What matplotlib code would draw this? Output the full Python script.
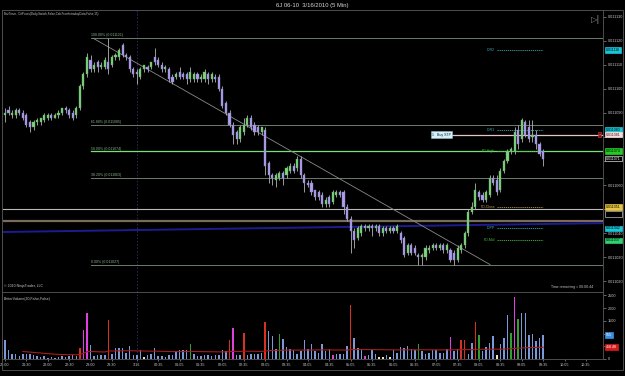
import matplotlib
matplotlib.use('Agg')
import matplotlib.pyplot as plt
import matplotlib.transforms as mtransforms
from matplotlib.patches import Rectangle
from matplotlib.ticker import FormatStrFormatter
import numpy as np
import pandas as pd

plt.rcParams['font.family'] = ['Liberation Sans', 'DejaVu Sans']

# ---------------- data ----------------
title = "6J 06-10  3/16/2010 (5 Min)"
indicator_text = "BarTimer,  CitPivots(Daily,Switch,False,CalcFromIntradayData,False,15)"
volume_text = "BetterVolume(20,False,False)"
copyright_text = "\u00a9 2010 NinjaTrader, LLC"
timer_text = "Time remaining = 00:00:44"

opens = [0.011089,0.011091,0.011089,0.011089,0.011091,0.011090,0.011089,0.011086,0.011084,0.011086,
0.011086,0.011087,0.011088,0.011089,0.011088,0.011089,0.011090,0.011092,0.011091,0.011090,
0.011089,0.011092,0.011101,0.011106,0.011112,0.011108,0.011111,0.011109,0.011109,0.011111,
0.011110,0.011113,0.011113,0.011118,0.011114,0.011113,0.011108,0.011107,0.011105,0.011108,
0.011109,0.011109,0.011113,0.011112,0.011110,0.011108,0.011108,0.011105,0.011105,0.011107,
0.011106,0.011106,0.011104,0.011104,0.011106,0.011104,0.011104,0.011106,0.011104,0.011105,
0.011105,0.011100,0.011094,0.011090,0.011085,0.011082,0.011079,0.011082,0.011085,0.011088,
0.011085,0.011084,0.011082,0.011083,0.011069,0.011064,0.011062,0.011063,0.011065,0.011064,
0.011066,0.011068,0.011067,0.011071,0.011064,0.011061,0.011061,0.011058,0.011057,0.011056,
0.011052,0.011055,0.011053,0.011056,0.011057,0.011057,0.011051,0.011046,0.011041,0.011038,
0.011040,0.011043,0.011042,0.011043,0.011042,0.011043,0.011040,0.011042,0.011041,0.011042,
0.011041,0.011040,0.011038,0.011032,0.011035,0.011034,0.011031,0.011030,0.011030,0.011033,
0.011034,0.011035,0.011034,0.011035,0.011033,0.011033,0.011032,0.011029,0.011033,0.011035,
0.011040,0.011049,0.011051,0.011057,0.011056,0.011054,0.011056,0.011063,0.011062,0.011058,
0.011066,0.011070,0.011074,0.011074,0.011083,0.011079,0.011086,0.011084,0.011080,0.011081,
0.011077,0.011074]

highs = [0.011092,0.011093,0.011091,0.011092,0.011092,0.011091,0.011090,0.011087,0.011087,0.011088,
0.011088,0.011090,0.011090,0.011090,0.011090,0.011091,0.011092,0.011093,0.011092,0.011091,
0.011093,0.011102,0.011107,0.011115,0.011114,0.011111,0.011112,0.011111,0.011113,0.011121,
0.011114,0.011115,0.011117,0.011119,0.011115,0.011114,0.011109,0.011108,0.011109,0.011110,
0.011110,0.011111,0.011117,0.011113,0.011111,0.011110,0.011109,0.011106,0.011107,0.011109,
0.011107,0.011107,0.011109,0.011107,0.011107,0.011106,0.011108,0.011107,0.011107,0.011106,
0.011106,0.011101,0.011095,0.011091,0.011086,0.011083,0.011085,0.011088,0.011089,0.011089,
0.011086,0.011085,0.011084,0.011084,0.011070,0.011065,0.011065,0.011066,0.011066,0.011068,
0.011069,0.011069,0.011072,0.011072,0.011065,0.011062,0.011062,0.011058,0.011058,0.011057,
0.011055,0.011056,0.011058,0.011058,0.011058,0.011058,0.011052,0.011047,0.011042,0.011043,
0.011044,0.011044,0.011044,0.011044,0.011044,0.011044,0.011043,0.011043,0.011043,0.011043,
0.011044,0.011041,0.011039,0.011036,0.011036,0.011035,0.011032,0.011032,0.011035,0.011035,
0.011036,0.011036,0.011036,0.011036,0.011036,0.011034,0.011033,0.011035,0.011036,0.011041,
0.011050,0.011053,0.011061,0.011058,0.011057,0.011058,0.011064,0.011064,0.011064,0.011067,
0.011071,0.011075,0.011076,0.011084,0.011085,0.011088,0.011087,0.011087,0.011087,0.011083,
0.011078,0.011075]

lows = [0.011086,0.011089,0.011088,0.011088,0.011089,0.011087,0.011084,0.011082,0.011083,0.011085,
0.011085,0.011086,0.011087,0.011087,0.011088,0.011088,0.011089,0.011090,0.011088,0.011087,
0.011088,0.011091,0.011100,0.011105,0.011107,0.011107,0.011107,0.011108,0.011108,0.011106,
0.011109,0.011112,0.011112,0.011113,0.011112,0.011107,0.011105,0.011102,0.011104,0.011107,
0.011107,0.011108,0.011110,0.011109,0.011107,0.011107,0.011103,0.011102,0.011104,0.011104,
0.011104,0.011102,0.011103,0.011103,0.011103,0.011103,0.011103,0.011102,0.011103,0.011103,
0.011099,0.011092,0.011089,0.011084,0.011077,0.011077,0.011078,0.011081,0.011084,0.011083,
0.011081,0.011081,0.011081,0.011064,0.011061,0.011060,0.011059,0.011062,0.011060,0.011063,
0.011065,0.011065,0.011066,0.011063,0.011057,0.011059,0.011056,0.011054,0.011054,0.011051,
0.011051,0.011051,0.011052,0.011055,0.011055,0.011048,0.011045,0.011032,0.011034,0.011037,
0.011039,0.011041,0.011041,0.011039,0.011041,0.011039,0.011039,0.011040,0.011040,0.011040,
0.011040,0.011036,0.011030,0.011031,0.011031,0.011031,0.011027,0.011027,0.011029,0.011032,
0.011033,0.011033,0.011033,0.011032,0.011032,0.011028,0.011027,0.011028,0.011032,0.011034,
0.011039,0.011048,0.011050,0.011054,0.011053,0.011053,0.011055,0.011060,0.011056,0.011057,
0.011065,0.011069,0.011073,0.011073,0.011075,0.011078,0.011080,0.011078,0.011078,0.011075,
0.011072,0.011068]

closes = [0.011090,0.011090,0.011090,0.011091,0.011090,0.011088,0.011085,0.011084,0.011086,0.011087,
0.011088,0.011089,0.011089,0.011088,0.011089,0.011090,0.011092,0.011091,0.011089,0.011088,
0.011092,0.011101,0.011106,0.011113,0.011108,0.011110,0.011109,0.011110,0.011112,0.011108,
0.011113,0.011114,0.011116,0.011114,0.011113,0.011108,0.011106,0.011106,0.011108,0.011110,
0.011108,0.011111,0.011111,0.011110,0.011108,0.011109,0.011104,0.011103,0.011106,0.011105,
0.011105,0.011104,0.011107,0.011106,0.011104,0.011105,0.011107,0.011104,0.011106,0.011104,
0.011100,0.011093,0.011090,0.011085,0.011081,0.011079,0.011084,0.011085,0.011088,0.011084,
0.011082,0.011082,0.011084,0.011068,0.011064,0.011063,0.011064,0.011065,0.011063,0.011067,
0.011068,0.011066,0.011071,0.011064,0.011061,0.011060,0.011057,0.011055,0.011055,0.011052,
0.011054,0.011052,0.011057,0.011057,0.011056,0.011051,0.011046,0.011041,0.011037,0.011042,
0.011043,0.011042,0.011043,0.011042,0.011043,0.011040,0.011042,0.011041,0.011042,0.011041,
0.011043,0.011037,0.011031,0.011035,0.011032,0.011032,0.011030,0.011031,0.011034,0.011034,
0.011035,0.011034,0.011035,0.011033,0.011035,0.011029,0.011029,0.011034,0.011035,0.011040,
0.011049,0.011051,0.011058,0.011055,0.011054,0.011057,0.011063,0.011061,0.011057,0.011066,
0.011070,0.011074,0.011075,0.011082,0.011077,0.011087,0.011081,0.011079,0.011081,0.011077,
0.011073,0.011071]

volumes = [733,340,210,183,118,183,210,210,170,105,
80,105,52,65,52,80,105,80,118,170,
118,432,1126,1806,537,118,144,170,170,1518,
210,432,432,432,249,497,144,170,340,92,
170,183,432,118,105,80,170,144,301,340,
340,340,602,210,105,105,144,144,105,170,
144,340,301,733,1230,144,144,1034,170,210,
210,210,249,1453,1086,903,380,995,798,471,
380,340,210,301,733,380,602,301,249,602,
301,406,144,210,183,183,510,2107,825,432,
406,105,170,340,183,80,80,144,80,340,
249,471,432,510,406,340,602,301,210,249,
340,340,249,249,380,864,301,380,759,733,
210,628,1453,955,301,471,641,903,170,602,
838,1715,1034,2435,1584,1820,1820,929,995,694,
825,955]

# BetterVolume bar classes (bar indices)
climax_bars = [21, 29, 63, 67, 73, 97, 128, 129, 132]
churn_bars = [22, 23, 64, 92, 101, 125, 143]
lowchurn_bars = [52, 77, 116, 133, 142, 144]
low_bars = [39, 105, 106, 108, 138]

tick_positions = [0, 6, 12, 18, 24, 30, 37, 43, 49, 55, 61, 67, 73, 79, 85, 91,
                  97, 103, 109, 115, 121, 127, 133, 139, 145, 151, 157, 163]
tick_labels = ["21:00", "21:30", "22:00", "22:30", "23:00", "23:30", "3/16", "00:35",
               "01:05", "01:35", "02:05", "02:35", "03:05", "03:35", "04:05", "04:35",
               "05:05", "05:35", "06:05", "06:35", "07:05", "07:35", "08:05", "08:35",
               "09:05", "09:35", "10:05", "10:35"]
session_break = 37

price_ticks = [0.011020, 0.011030, 0.011040, 0.011050, 0.011060, 0.011070,
               0.011080, 0.011090, 0.011100, 0.011110, 0.011120, 0.011130]
volume_ticks = [0, 500, 1000, 1500, 2000, 2500]
volume_tick_labels = ["0", "", "", "1500", "2000", "2500"]   # 500 / 1000 hidden behind value boxes

fib_high = 0.011121
fib_low = 0.011027
fib_start = 24
fib_ratios = [1.0, 0.618, 0.5, 0.382, 0.0]

trend_start = (24.7, 0.011121)
trend_end = (136.1, 0.011027)

white_line = 0.011050
brown_line = 0.011045
blue_line = ((-0.84, 0.0110405), (167.8, 0.0110442))

pivot_names = ["D-R2", "D-R1", "PD-High", "PD-Close", "D-PP", "PD-Mid"]
pivot_values = [0.011116, 0.011083, 0.011074, 0.011051, 0.011042, 0.011037]
pivot_colors = ["#3aa6b0", "#3aa6b0", "#3fbf3f", "#b89a50", "#3aa6b0", "#3fbf3f"]
pivot_box_colors = ["#19c6d8", "#19c6d8", "#22cc22", "#e8c440", "#19c6d8", "#2fd070"]
pivot_span = (138, 151)

order_price = 0.011081
order_label = "1   Buy STP"
order_start = 125.5

# ---------------- figure ----------------
W, H = 625, 376
fig = plt.figure(figsize=(6.25, 3.76), dpi=100, facecolor='black')

def fx(px):
    return px / W

def fy(py):
    return 1 - py / H

ax = fig.add_axes([fx(2), fy(292), fx(603) - fx(2), fy(10) - fy(292)], facecolor='black')
axv = fig.add_axes([fx(2), fy(359), fx(603) - fx(2), fy(292) - fy(359)], facecolor='black', sharex=ax)

XMIN, XMAX = -0.84, 167.8
ax.set_xlim(XMIN, XMAX)
ax.set_ylim(0.0110156, 0.0111327)
axv.set_ylim(0, 2630)

spine_col = '#4d4d4d'
for a in (ax, axv):
    for s in a.spines.values():
        s.set_color(spine_col)
        s.set_linewidth(0.7)

txt_col = '#c8c8c8'
FS = 2.7
SMALL = 2.5

# candles
o = np.array(opens); h = np.array(highs); l = np.array(lows); c = np.array(closes)
idx = np.arange(len(o))
up = c >= o
ax.vlines(idx, l, h, color='#b4b4b4', lw=0.6, zorder=4)
body_bottom = np.minimum(o, c)
body_h = np.maximum(np.abs(c - o), 0.35e-6)
ax.bar(idx, body_h, bottom=body_bottom, width=0.6,
       color=np.where(up, '#80d480', '#aca0ea'),
       edgecolor=np.where(up, '#5fa85f', '#8a80c8'), linewidth=0.3, zorder=5)

# fibonacci
for r in fib_ratios:
    lv = fib_low + r * (fib_high - fib_low)
    lvr = round(lv, 6)
    col = '#78e078' if r == 0.5 else '#6c7c6c'
    ax.plot([fib_start, XMAX], [lv, lv], color=col, lw=0.9 if r == 0.5 else 0.7, zorder=2)
    ax.text(fib_start, lv + 0.3e-6, f"{r*100:.2f}% ({lvr:.6f})", color='#8fb48f',
            fontsize=SMALL, va='bottom', ha='left', zorder=6)

# trend line
ax.plot([trend_start[0], trend_end[0]], [trend_start[1], trend_end[1]], color='#8a8a8a', lw=0.6, zorder=3)

# horizontal user lines
ax.plot([XMIN, XMAX], [white_line, white_line], color='#b8b8b8', lw=0.8, zorder=2)
ax.plot([XMIN, XMAX], [brown_line, brown_line], color='#7a6c58', lw=1.6, zorder=2)
ax.plot([blue_line[0][0], blue_line[1][0]], [blue_line[0][1], blue_line[1][1]], color='#1c1c90', lw=1.4, zorder=2)

# session break
for a in (ax, axv):
    a.axvline(session_break, color='#2c2c70', lw=0.6, ls=(0, (2, 2)), zorder=1)

# pivots
for name, val, colr in zip(pivot_names, pivot_values, pivot_colors):
    ax.plot(pivot_span, [val, val], color=colr, lw=0.6, ls=(0, (1.5, 1)), zorder=3)
    ax.text(pivot_span[0] - 0.5, val, name, color=colr, fontsize=SMALL, ha='right', va='center', zorder=6)

# order line
ax.plot([order_start, XMAX], [order_price, order_price], color='#e8c4c4', lw=0.9, zorder=3)
ax.text(order_start - 0.3, order_price, order_label, fontsize=SMALL, color='#102030', ha='right', va='center',
        bbox=dict(boxstyle='square,pad=0.3', fc='#d6f0fa', ec='#8fb8c8', lw=0.4), zorder=7)
ax.text(XMAX - 1.0, order_price, "\u00d7", fontsize=2.8, color='#ffb0b0', ha='center', va='center',
        bbox=dict(boxstyle='square,pad=0.15', fc='#6a1010', ec='#e04040', lw=0.4), zorder=8)

# right price axis
ax.yaxis.tick_right()
ax.set_yticks(price_ticks)
ax.yaxis.set_major_formatter(FormatStrFormatter('%.6f'))
ax.tick_params(axis='y', colors='#909090', labelcolor=txt_col, labelsize=FS, length=2, width=0.5, pad=1.2)
ax.tick_params(axis='x', bottom=False, labelbottom=False)

tr = mtransforms.blended_transform_factory(ax.transAxes, ax.transData)

def price_box(val, fc, tc='#000000', ec=None):
    ax.text(1.005, val, f"{val:.6f}", transform=tr, fontsize=2.6, color=tc, ha='left', va='center',
            bbox=dict(boxstyle='square,pad=0.25', fc=fc, ec=ec if ec else fc, lw=0.5), zorder=9, clip_on=False)

for val, bc in zip(pivot_values, pivot_box_colors):
    price_box(val, bc)
price_box(order_price, '#f4dede', tc='#5a1010')
price_box(closes[-1], '#000000', tc='#ffffff', ec='#d0d0d0')
ax.text(1.005, white_line - 2.0e-6, "0.011050", transform=tr, fontsize=2.6, color='#000000', ha='left', va='center',
        bbox=dict(boxstyle='square,pad=0.25', fc='#000000', ec='#c0c0c0', lw=0.5), zorder=9, clip_on=False)

# texts in main panel
ax.text(2 / 601, 1 - 2.5 / 282, indicator_text, transform=ax.transAxes, fontsize=2.1, color=txt_col, va='top', ha='left')
ax.text(2 / 601, 4 / 282, copyright_text, transform=ax.transAxes, fontsize=SMALL, color=txt_col, va='bottom', ha='left')
ax.text(591 / 601, 3 / 282, timer_text, transform=ax.transAxes, fontsize=SMALL, color=txt_col, va='bottom', ha='right')
fig.text(fx(596), fy(19), "\u25b7|", fontsize=6, color='#8c8c8c', ha='center', va='center', family=['DejaVu Sans'])

# volume panel
vcol = []
for i in range(len(volumes)):
    if i in climax_bars:
        vcol.append('#d8321e')
    elif i in churn_bars:
        vcol.append('#e040e0')
    elif i in lowchurn_bars:
        vcol.append('#2ea02e')
    elif i in low_bars:
        vcol.append('#f0e6b0')
    else:
        vcol.append('#7b98d8')
axv.bar(idx, volumes, width=0.42, color=vcol, zorder=3)
avg = pd.Series(volumes).expanding(min_periods=6).mean()
axv.plot(idx, avg.values, color='#a81c1c', lw=0.8, zorder=4)

axv.yaxis.tick_right()
axv.set_yticks(volume_ticks)
axv.set_yticklabels(volume_tick_labels)
axv.tick_params(axis='y', colors='#909090', labelcolor=txt_col, labelsize=FS, length=2, width=0.5, pad=1.2)
axv.set_xticks(tick_positions)
axv.set_xticklabels(tick_labels)
axv.tick_params(axis='x', colors='#909090', labelcolor=txt_col, labelsize=FS, length=1.5, width=0.5, pad=1.5)
axv.text(2 / 601, 1 - 7 / 67, volume_text, transform=axv.transAxes, fontsize=SMALL, color=txt_col, va='center', ha='left')

trv = mtransforms.blended_transform_factory(axv.transAxes, axv.transData)
axv.text(1.005, volumes[-1], f"{volumes[-1]}", transform=trv, fontsize=2.6, color='#ffffff', ha='left', va='center',
         bbox=dict(boxstyle='square,pad=0.25', fc='#3c8ee0', ec='#3c8ee0', lw=0.5), zorder=9, clip_on=False)
axv.text(1.005, avg.values[-1], f"{avg.values[-1]:.2f}", transform=trv, fontsize=2.6, color='#ffffff', ha='left', va='center',
         bbox=dict(boxstyle='square,pad=0.25', fc='#d41c1c', ec='#d41c1c', lw=0.5), zorder=9, clip_on=False)

# title and outer frame
fig.text(0.5, fy(6), title, fontsize=4.2, color='#d8d8d8', ha='center', va='center')
fig.add_artist(Rectangle((fx(2), fy(370)), fx(623) - fx(2), fy(10) - fy(370), transform=fig.transFigure,
                         fill=False, ec=spine_col, lw=0.7))

fig.savefig('out.png', dpi=100, facecolor='black')
